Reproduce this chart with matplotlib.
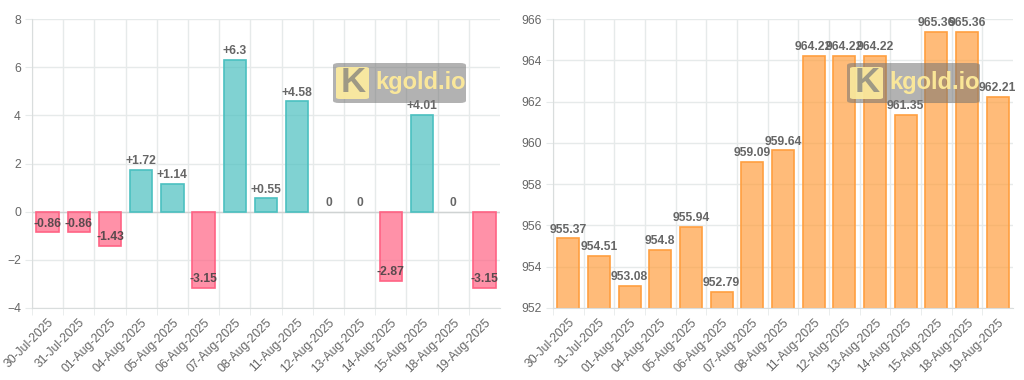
import matplotlib.pyplot as plt
from matplotlib.patches import FancyBboxPatch

dates = ['30-Jul-2025', '31-Jul-2025', '01-Aug-2025', '04-Aug-2025', '05-Aug-2025',
         '06-Aug-2025', '07-Aug-2025', '08-Aug-2025', '11-Aug-2025', '12-Aug-2025',
         '13-Aug-2025', '14-Aug-2025', '15-Aug-2025', '18-Aug-2025', '19-Aug-2025']
changes = [-0.86, -0.86, -1.43, 1.72, 1.14, -3.15, 6.3, 0.55, 4.58, 0, 0, -2.87, 4.01, 0, -3.15]
prices = [955.37, 954.51, 953.08, 954.8, 955.94, 952.79, 959.09, 959.64,
          964.22, 964.22, 964.22, 961.35, 965.36, 965.36, 962.21]

plt.rcParams['font.family'] = ['Liberation Sans', 'DejaVu Sans']

teal = (75/255, 192/255, 192/255)
pink = (255/255, 99/255, 132/255)
orange = (255/255, 159/255, 64/255)
grid_c = '#e6eaea'
txt_c = '#666666'

fig = plt.figure(figsize=(10.24, 3.8), dpi=100)
ax1 = fig.add_axes([32/1024, 72/380, 468/1024, 289/380])
ax2 = fig.add_axes([553/1024, 72/380, 460/1024, 289/380])


def style_axes(ax, ylim, yticks):
    n = len(dates)
    ax.set_xlim(-0.5, n - 0.5)
    ax.set_ylim(*ylim)
    ax.set_yticks(yticks)
    ax.set_xticks(range(n))
    ax.set_xticklabels(dates, rotation=45, ha='right', rotation_mode='anchor')
    ax.set_xticks([i - 0.5 for i in range(n)], minor=True)
    ax.tick_params(axis='x', which='major', length=0, labelsize=8.7, colors=txt_c, pad=6)
    ax.tick_params(axis='x', which='minor', length=5, color=grid_c)
    ax.tick_params(axis='y', length=5, color=grid_c, labelsize=8.7, labelcolor=txt_c, pad=3)
    ax.grid(True, which='minor', axis='x', color=grid_c, lw=1, zorder=0)
    ax.grid(True, which='major', axis='y', color=grid_c, lw=1, zorder=0)
    for s in ['top', 'right']:
        ax.spines[s].set_visible(False)
    ax.spines['left'].set_color('#d9dddd')
    ax.spines['bottom'].set_color('#d9dddd')
    ax.set_axisbelow(True)


# left chart: daily change
cols = [teal if v >= 0 else pink for v in changes]
lws = [1.2 if v != 0 else 0 for v in changes]
ax1.bar(range(len(changes)), changes, width=0.72,
        color=[c + (0.7,) for c in cols], edgecolor=cols, lw=lws, zorder=2)
ax1.axhline(0, color='#cfd3d3', lw=1, zorder=1)
style_axes(ax1, (-4, 8), [-4, -2, 0, 2, 4, 6, 8])
for i, v in enumerate(changes):
    if v > 0:
        lab, c = '+' + str(v), txt_c
    elif v == 0:
        lab, c = '0', txt_c
    else:
        lab, c = str(v), '#5a4a4e'
    ax1.annotate(lab, (i, v), xytext=(0, 2), textcoords='offset points',
                 ha='center', va='bottom', fontsize=8.7, fontweight='bold', color=c, zorder=4)

# right chart: price
ax2.bar(range(len(prices)), prices, width=0.72,
        color=orange + (0.7,), edgecolor=orange, lw=1.2, zorder=2)
style_axes(ax2, (952, 966), [952, 954, 956, 958, 960, 962, 964, 966])
for i, v in enumerate(prices):
    ax2.annotate(str(v), (i, v), xytext=(0, 2), textcoords='offset points',
                 ha='center', va='bottom', fontsize=8.7, fontweight='bold', color=txt_c, zorder=4)


# watermark
def watermark(x0, y0):
    w, h = 133, 40
    box = FancyBboxPatch((x0 / 1024, (380 - y0 - h) / 380), w / 1024, h / 380,
                         boxstyle='round,pad=0,rounding_size=0.006',
                         transform=fig.transFigure, facecolor=(0.45, 0.45, 0.45, 0.55),
                         edgecolor='none', zorder=10)
    fig.add_artist(box)
    logo = FancyBboxPatch(((x0 + 3) / 1024, (380 - y0 - h + 4) / 380), 33 / 1024, 32 / 380,
                          boxstyle='round,pad=0,rounding_size=0.004',
                          transform=fig.transFigure, facecolor=(1.0, 0.93, 0.62, 0.9),
                          edgecolor='none', zorder=11)
    fig.add_artist(logo)
    fig.text((x0 + 20) / 1024, (380 - y0 - h / 2) / 380, 'K', fontsize=25, fontweight='bold',
             color=(0.62, 0.6, 0.52), ha='center', va='center', zorder=12)
    fig.text((x0 + 42) / 1024, (380 - y0 - h / 2) / 380, 'kgold.io', fontsize=17, fontweight='bold',
             color=(1.0, 0.92, 0.6, 0.95), ha='left', va='center', zorder=12)


watermark(333, 63)
watermark(847, 63)

fig.savefig('out.png', dpi=100)
